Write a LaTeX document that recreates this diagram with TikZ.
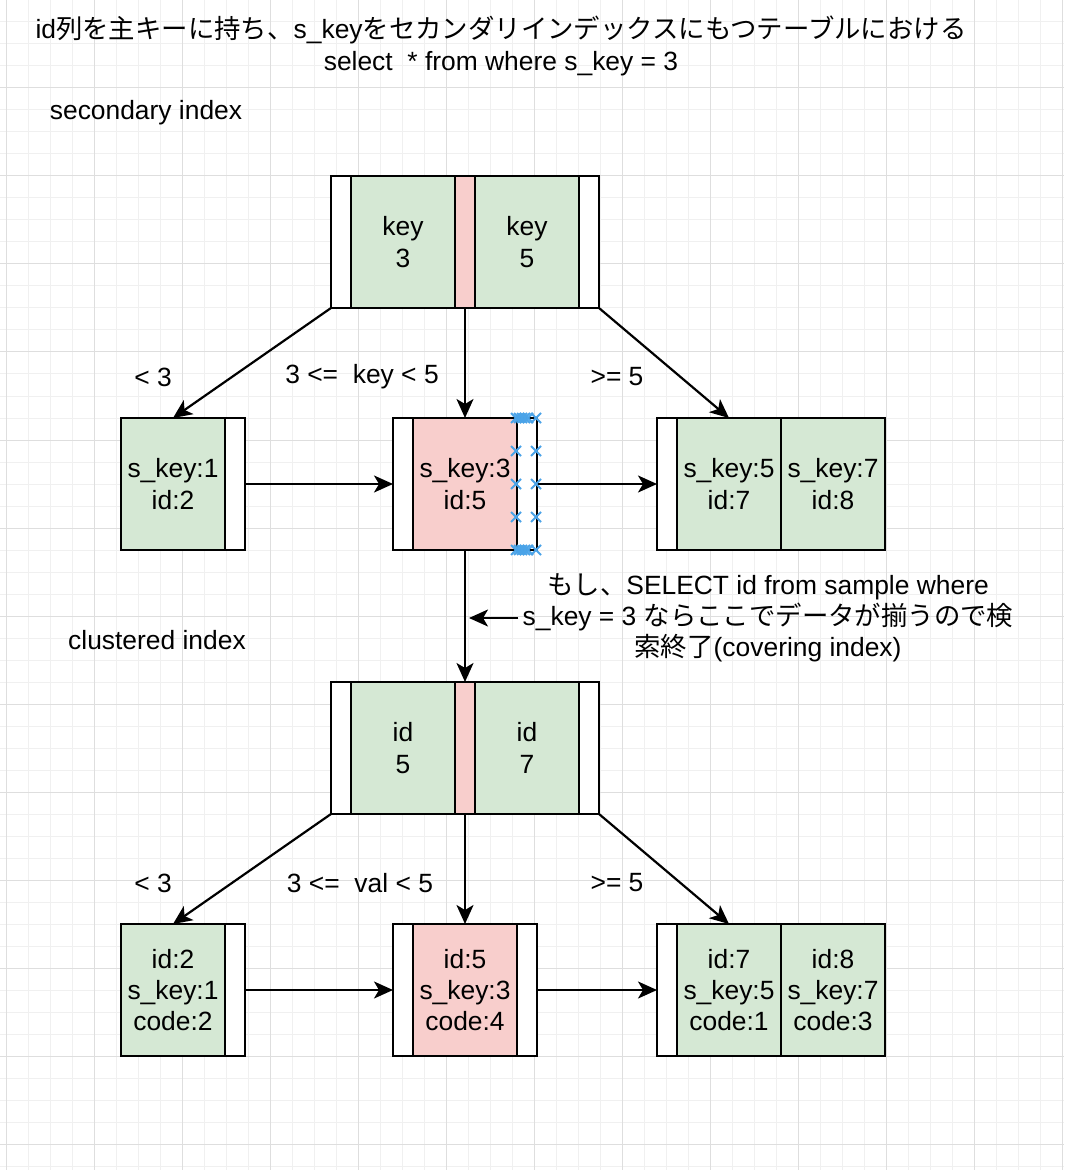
\documentclass[tikz,border=0pt]{standalone}
\usepackage{fontspec}
\setmainfont{Liberation Sans}
\newfontfamily\jp{Noto Sans CJK JP}
\usepackage{tikz}
\usetikzlibrary{positioning,arrows.meta}
\definecolor{keygreen}{HTML}{D5E8D4}
\definecolor{keyred}{HTML}{F8CECC}
\definecolor{selblue}{HTML}{4AA3E8}
\newcommand{\nodefont}{\fontsize{13.2}{15.6}\selectfont}

\tikzset{
  bcell/.style={draw, line width=1.1pt, minimum height=66pt, inner sep=0pt, outer sep=0pt, align=center, font=\nodefont},
  ptr/.style={bcell, fill=white, minimum width=10pt},
  ptrred/.style={bcell, fill=keyred, minimum width=10pt},
  keyg/.style={bcell, fill=keygreen, minimum width=52pt},
  keyr/.style={bcell, fill=keyred, minimum width=52pt},
  lbl/.style={font=\nodefont, align=center, inner sep=2pt},
  link/.style={-{Stealth[length=9.5pt,width=8.5pt,inset=2.5pt]}, line width=1.1pt},
  gridmin/.style={draw=black!6, line width=0.5pt},
  gridmaj/.style={draw=black!13, line width=0.5pt},
  handle/.style={draw=selblue, line width=0.9pt}
}

\begin{document}
\begin{tikzpicture}[x=0.5pt, y=-0.5pt, node distance=0pt]
  \useasboundingbox (0,0) rectangle (1064,1170);
  \fill[white] (0,0) rectangle (1064,1170);
  \foreach \i in {0,...,48} \draw[gridmin] ({6.7+22*\i},0) -- ++(0,1170);
  \foreach \j in {0,...,53} \draw[gridmin] (0,{22*\j}) -- ++(1064,0);
  \foreach \i in {0,...,12} \draw[gridmaj] ({6.7+88*\i},0) -- ++(0,1170);
  \foreach \j in {0,...,13} \draw[gridmaj] (0,{88*\j}) -- ++(1064,0);

  \node[lbl] (title) at (501,46) {id{\jp 列を主キーに持ち、}s\_key{\jp をセカンダリインデックスにもつテーブルにおける}\\select\ \ * from where s\_key = 3};
  \node[lbl] (secLabel) at (146,113) {secondary index};
  \node[lbl] (cluLabel) at (157,640) {clustered index};

  % secondary index
  \node[ptr, anchor=north west] (sRoot0) at (331,176) {};
  \node[keyg, right=of sRoot0] (sRootK1) {key\\3};
  \node[ptrred, right=of sRootK1] (sRoot1) {};
  \node[keyg, right=of sRoot1] (sRootK2) {key\\5};
  \node[ptr, right=of sRootK2] (sRoot2) {};

  \node[keyg, anchor=north west] (sLeafA1) at (121,418) {s\_key:1\\id:2};
  \node[ptr, right=of sLeafA1] (sLeafA2) {};

  \node[ptr, anchor=north west] (sLeafB0) at (393,418) {};
  \node[keyr, right=of sLeafB0] (sLeafB1) {s\_key:3\\id:5};
  \node[ptr, right=of sLeafB1] (sLeafB2) {};

  \node[ptr, anchor=north west] (sLeafC0) at (657,418) {};
  \node[keyg, right=of sLeafC0] (sLeafC1) {s\_key:5\\id:7};
  \node[keyg, right=of sLeafC1] (sLeafC2) {s\_key:7\\id:8};

  \node[lbl] (sLt) at (153,377) {< 3};
  \node[lbl] (sMid) at (362,377) {3 <=\ \ key < 5};
  \node[lbl] (sGe) at (617,377) {>= 5};

  % clustered index
  \node[ptr, anchor=north west] (cRoot0) at (331,682) {};
  \node[keyg, right=of cRoot0] (cRootK1) {id\\5};
  \node[ptrred, right=of cRootK1] (cRoot1) {};
  \node[keyg, right=of cRoot1] (cRootK2) {id\\7};
  \node[ptr, right=of cRootK2] (cRoot2) {};

  \node[keyg, anchor=north west] (cLeafA1) at (121,924) {id:2\\s\_key:1\\code:2};
  \node[ptr, right=of cLeafA1] (cLeafA2) {};

  \node[ptr, anchor=north west] (cLeafB0) at (393,924) {};
  \node[keyr, right=of cLeafB0] (cLeafB1) {id:5\\s\_key:3\\code:4};
  \node[ptr, right=of cLeafB1] (cLeafB2) {};

  \node[ptr, anchor=north west] (cLeafC0) at (657,924) {};
  \node[keyg, right=of cLeafC0] (cLeafC1) {id:7\\s\_key:5\\code:1};
  \node[keyg, right=of cLeafC1] (cLeafC2) {id:8\\s\_key:7\\code:3};

  \node[lbl] (cLt) at (153,883) {< 3};
  \node[lbl] (cMid) at (360,883) {3 <=\ \ val < 5};
  \node[lbl] (cGe) at (617,883) {>= 5};

  \node[lbl] (note) at (768,618) {{\jp もし、}SELECT id from sample where\\s\_key = 3 {\jp ならここでデータが揃うので検}\\{\jp 索終了}(covering index)};
  \coordinate (noteTip) at (469,618);

  \path[link]
    (sRoot0.south west) edge (sLeafA1.north)
    (sRoot1.south) edge (sLeafB1.north)
    (sRoot2.south east) edge (sLeafC1.north)
    (sLeafA2.east) edge (sLeafB0.west)
    (sLeafB2.east) edge (sLeafC0.west)
    (sLeafB1.south) edge (cRoot1.north)
    (note.west) edge (noteTip)
    (cRoot0.south west) edge (cLeafA1.north)
    (cRoot1.south) edge (cLeafB1.north)
    (cRoot2.south east) edge (cLeafC1.north)
    (cLeafA2.east) edge (cLeafB0.west)
    (cLeafB2.east) edge (cLeafC0.west);

  \foreach \hx/\hy in {516/418, 519/418, 522/418, 525/418, 528/418, 536/418,
                       516/451, 536/451, 516/484, 536/484, 516/517, 536/517,
                       516/550, 519/550, 522/550, 525/550, 528/550, 536/550}
    \draw[handle] (\hx,\hy) +(-5,-5) -- +(5,5) +(-5,5) -- +(5,-5);
\end{tikzpicture}
\end{document}
